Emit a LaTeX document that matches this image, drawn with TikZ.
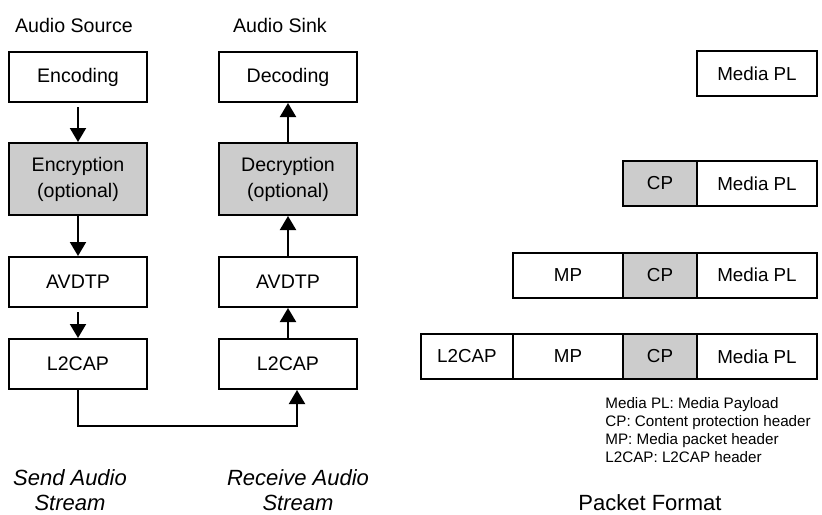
\documentclass[tikz,border=0pt]{standalone}
\usepackage{fontspec}
\setmainfont{Liberation Sans}
\usetikzlibrary{positioning, arrows.meta}

\begin{document}
\begin{tikzpicture}[x=0.5pt, y=-0.5pt, >={Triangle[width=8pt,length=7pt]},
  blk/.style={draw, line width=1pt, minimum width=69pt, minimum height=25pt, align=center,
    font=\fontsize{9.8}{13}\selectfont},
  crypt/.style={blk, fill=gray!40, minimum height=36pt},
  pkt/.style={draw, line width=1pt, outer sep=0pt, inner sep=0pt, minimum height=22.5pt,
    font=\fontsize{9.4}{11}\selectfont},
  hd/.style={font=\fontsize{9.8}{12}\selectfont, anchor=west},
  strm/.style={align=center, font=\fontsize{11}{12.5}\selectfont\itshape}]
  \useasboundingbox (0,0) rectangle (822,514);
  % source side
  \node[blk] (src-enc) at (78,77) {Encoding};
  \node[crypt, below=19.5pt of src-enc] (src-crypt) {Encryption\\(optional)};
  \node[blk, below=20pt of src-crypt] (src-avdtp) {AVDTP};
  \node[blk, below=15pt of src-avdtp] (src-l2cap) {L2CAP};
  % sink side
  \node[blk, right=35pt of src-enc] (snk-dec) {Decoding};
  \node[crypt, right=35pt of src-crypt] (snk-crypt) {Decryption\\(optional)};
  \node[blk, right=35pt of src-avdtp] (snk-avdtp) {AVDTP};
  \node[blk, right=35pt of src-l2cap] (snk-l2cap) {L2CAP};
  \node[hd] (src-title) at (8,25) {Audio Source};
  \node[hd] (snk-title) at (226,25) {Audio Sink};
  \node[strm] (send) at (70,490) {Send Audio\\Stream};
  \node[strm] (recv) at (298,490) {Receive Audio\\Stream};
  \draw[line width=1pt, ->, shorten <=2pt] (src-enc) -- (src-crypt);
  \draw[line width=1pt, ->] (src-crypt) -- (src-avdtp);
  \draw[line width=1pt, ->, shorten <=2pt] (src-avdtp) -- (src-l2cap);
  \draw[line width=1pt, ->] (src-l2cap.south) -- ++(0,36) -| ([xshift=4.5pt]snk-l2cap.south);
  \draw[line width=1pt, ->] (snk-l2cap) -- (snk-avdtp);
  \draw[line width=1pt, ->] (snk-avdtp) -- (snk-crypt);
  \draw[line width=1pt, ->] (snk-crypt) -- (snk-dec);
  % packet format
  \node[pkt, minimum width=60pt] (pl1) at (757,73.5) {Media PL};
  \node[pkt, minimum width=60pt] (pl2) at (757,183.5) {Media PL};
  \node[pkt, minimum width=37pt, fill=gray!40, left=0pt of pl2] (cp2) {CP};
  \node[pkt, minimum width=60pt] (pl3) at (757,275) {Media PL};
  \node[pkt, minimum width=37pt, fill=gray!40, left=0pt of pl3] (cp3) {CP};
  \node[pkt, minimum width=55pt, left=0pt of cp3] (mp3) {MP};
  \node[pkt, minimum width=60pt] (pl4) at (757,356.5) {Media PL};
  \node[pkt, minimum width=37pt, fill=gray!40, left=0pt of pl4] (cp4) {CP};
  \node[pkt, minimum width=55pt, left=0pt of cp4] (mp4) {MP};
  \node[pkt, minimum width=46pt, left=0pt of mp4] (l2-4) {L2CAP};
  \node[anchor=north west, align=left, inner sep=0pt, font=\fontsize{7.6}{9}\selectfont]
    (legend) at (605,397) {Media PL: Media Payload\\CP: Content protection header\\MP: Media packet header\\L2CAP: L2CAP header};
  \node[anchor=west, inner sep=0pt, font=\fontsize{11}{12}\selectfont] (fmt) at (578,503) {Packet Format};
\end{tikzpicture}
\end{document}
